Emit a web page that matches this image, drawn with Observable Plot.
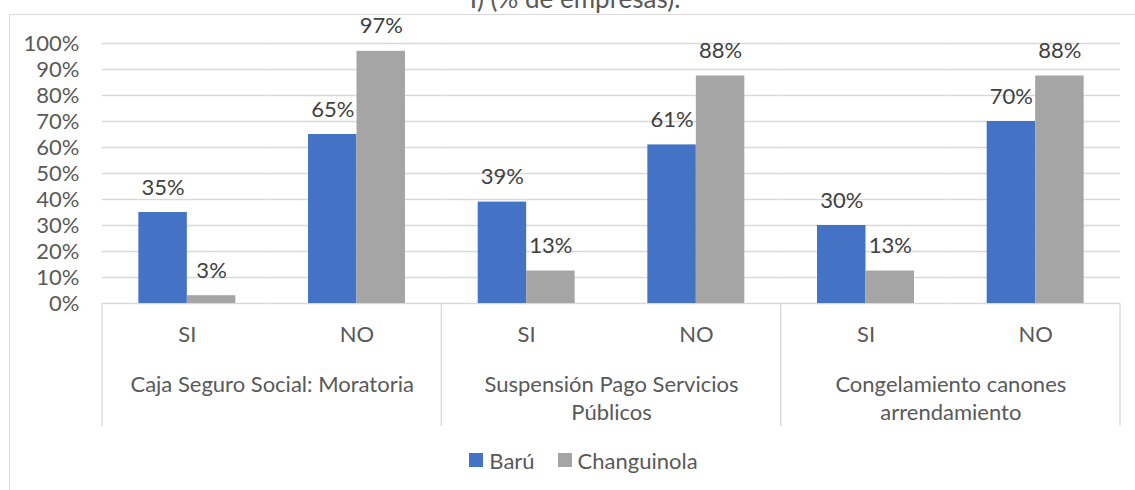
<!DOCTYPE html>
<html>
<head>
<meta charset="utf-8">
<script src="https://cdn.jsdelivr.net/npm/d3@7"></script>
<script src="https://cdn.jsdelivr.net/npm/@observablehq/plot@0.6"></script>
<style>
  html, body { margin: 0; padding: 0; background: #fff; }
  #wrap { position: relative; width: 1135px; height: 490px; overflow: hidden; font-family: Lato, sans-serif; color: #595959; }
  #title { position: absolute; top: -15px; left: 0; width: 1150px; text-align: center; font-size: 26px; line-height: 26px; white-space: nowrap; }
  #box { position: absolute; left: 9px; top: 14px; width: 1160px; height: 500px; border: 1px solid #d9d9d9; box-sizing: border-box; }
  #chart { position: absolute; left: 0; top: 0; }
  #legend { position: absolute; left: 0; top: 446px; width: 1167px; height: 28px; display: flex; justify-content: center; align-items: center; font-size: 22px; }
  .item { display: flex; align-items: center; }
  .sw { width: 14px; height: 14px; margin-right: 6px; }
</style>
</head>
<body>
<div id="wrap">
  <div id="box"></div>
  <div id="title"></div>
  <div id="chart"></div>
  <div id="legend"></div>
</div>
<script>
const titleText = "I) (% de empresas).";
const groups = ["Caja Seguro Social: Moratoria", "Suspensión Pago Servicios Públicos", "Congelamiento canones arrendamiento"];
const groupLabels = ["Caja Seguro Social: Moratoria", "Suspensión Pago Servicios\nPúblicos", "Congelamiento canones\narrendamiento"];
const answers = ["SI", "NO"];
const series = ["Barú", "Changuinola"];
const colors = ["#4472C4", "#A5A5A5"];
const baru = [35, 65, 39, 61, 30, 70];
const changuinola = [3, 97, 12.5, 87.5, 12.5, 87.5];
const yTicks = [0, 10, 20, 30, 40, 50, 60, 70, 80, 90, 100];

document.getElementById("title").textContent = titleText;

const keys = [];
const rows = [];
groups.forEach((g, gi) => {
  answers.forEach((a, ai) => {
    const i = gi * answers.length + ai;
    const key = g + "|" + a;
    keys.push(key);
    rows.push({key, group: groupLabels[gi], answer: a, series: series[0], value: baru[i]});
    rows.push({key, group: groupLabels[gi], answer: a, series: series[1], value: changuinola[i]});
  });
});

const W = 1135, H = 426;
const chart = Plot.plot({
  width: W,
  height: H,
  marginLeft: 102,
  marginRight: 15,
  marginTop: 43,
  marginBottom: 123,
  style: {fontFamily: "Lato, sans-serif", fontSize: "22px", color: "#595959", background: "transparent", overflow: "visible"},
  facet: {data: rows, x: "key", label: null},
  fx: {domain: keys, padding: 0, round: false, axis: "bottom", label: null, tickSize: 0, tickPadding: 23, tickFormat: k => k.split("|")[1]},
  x: {domain: series, paddingInner: 0, paddingOuter: 0.75, round: false, axis: null},
  y: {domain: [0, 100], ticks: yTicks, tickFormat: d => d + "%", tickSize: 0, tickPadding: 23, label: null},
  color: {domain: series, range: colors},
  marks: [
    Plot.ruleY(yTicks, {stroke: "#d9d9d9", strokeWidth: 1.3}),
    Plot.barY(rows, {x: "series", y: "value", fill: "series"}),
    Plot.text(rows, {x: "series", y: "value", text: d => Math.round(d.value) + "%", dy: -25, fill: "#404040"}),
    Plot.text(rows, {filter: d => d.answer === answers[0] && d.series === series[0], text: "group", frameAnchor: "bottom-right", textAnchor: "middle", lineAnchor: "top", dy: 69, lineHeight: 1.27})
  ]
});

// category-axis separators drawn from the library's facet and y scales
const fxS = chart.scale("fx");
const yS = chart.scale("y");
const y0 = yS.apply(0);
const bw = fxS.bandwidth;
const seps = groups.map(g => fxS.apply(g + "|" + answers[0]));
seps.push(fxS.apply(keys[keys.length - 1]) + bw);
const g = d3.select(chart).append("g");
seps.forEach(x => {
  g.append("line").attr("x1", x).attr("x2", x).attr("y1", y0).attr("y2", H)
    .attr("stroke", "#d9d9d9").attr("stroke-width", 1.3);
});

document.getElementById("chart").appendChild(chart);

const legend = document.getElementById("legend");
series.forEach((s, i) => {
  const it = document.createElement("div");
  it.className = "item";
  it.style.marginRight = i < series.length - 1 ? "23px" : "0";
  const sw = document.createElement("div");
  sw.className = "sw";
  sw.style.background = colors[i];
  const t = document.createElement("span");
  t.textContent = s;
  it.appendChild(sw); it.appendChild(t);
  legend.appendChild(it);
});
</script>
</body>
</html>
